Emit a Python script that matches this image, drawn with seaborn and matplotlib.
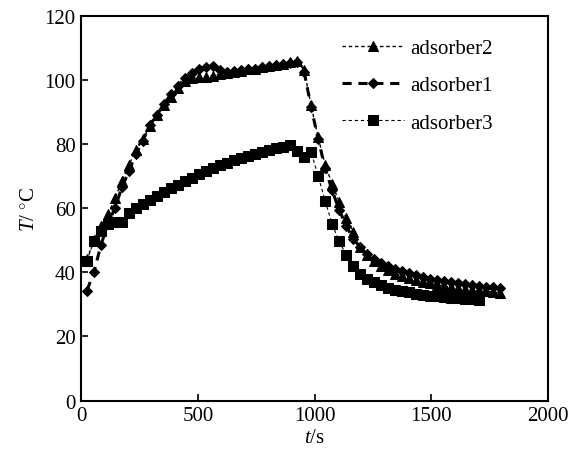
import matplotlib
matplotlib.use("Agg")
import matplotlib.pyplot as plt
import numpy as np
import pandas as pd
import seaborn as sns

# time axis (s), ~30 s sampling
t = [25, 55, 85, 115, 145, 175, 205, 235, 265, 295,
     325, 355, 385, 415, 445, 475, 505, 535, 565, 595,
     625, 655, 685, 715, 745, 775, 805, 835, 865, 895,
     925, 955, 985, 1015, 1045, 1075, 1105, 1135, 1165, 1195,
     1225, 1255, 1285, 1315, 1345, 1375, 1405, 1435, 1465, 1495,
     1525, 1555, 1585, 1615, 1645, 1675, 1705, 1735, 1765, 1795]

adsorber2 = [44.0, 50.0, 54.5, 58.0, 63.0, 68.5, 73.5, 78.0, 81.5, 85.5,
             89.0, 92.0, 94.5, 97.5, 99.5, 100.5, 100.8, 101.0, 101.3, 101.7,
             102.0, 102.4, 102.8, 103.2, 103.5, 103.9, 104.3, 104.7, 105.0, 105.4,
             105.8, 103.0, 92.0, 82.0, 73.5, 67.5, 62.0, 57.0, 52.5, 48.0,
             45.5, 43.5, 41.8, 40.6, 39.6, 38.8, 38.1, 37.5, 37.0, 36.5,
             36.1, 35.7, 35.3, 35.0, 34.7, 34.4, 34.2, 34.0, 33.8, 33.6]

adsorber1 = [34.3, 40.0, 48.5, 55.0, 60.0, 66.5, 71.5, 77.0, 81.0, 86.0,
             89.0, 92.5, 95.5, 98.0, 100.5, 102.0, 103.5, 104.0, 104.3, 103.0,
             102.5, 102.6, 102.9, 103.2, 103.5, 103.9, 104.2, 104.6, 105.0, 105.3,
             105.5, 102.5, 91.5, 81.5, 72.5, 65.5, 59.5, 54.5, 50.5, 47.8,
             45.6, 44.0, 42.8, 41.8, 41.0, 40.3, 39.7, 39.1, 38.5, 38.0,
             37.6, 37.2, 36.9, 36.6, 36.3, 36.1, 35.8, 35.5, 35.3, 35.0]

# adsorber3 stops at 1705 s
t3 = t[:57]
adsorber3 = [43.5, 49.8, 52.8, 55.0, 55.6, 55.6, 58.5, 60.0, 61.3, 62.5,
             63.8, 65.0, 66.2, 67.3, 68.4, 69.5, 70.5, 71.5, 72.4, 73.3,
             74.1, 74.9, 75.6, 76.3, 77.0, 77.6, 78.2, 78.7, 79.1, 79.8,
             77.8, 75.8, 77.5, 70.0, 62.3, 55.0, 49.6, 45.5, 42.0, 39.5,
             38.0, 36.9, 36.0, 35.2, 34.6, 34.1, 33.7, 33.3, 33.0, 32.7,
             32.5, 32.2, 32.0, 31.9, 31.7, 31.6, 31.5]

sns.set_theme(style="ticks")
plt.rcParams['font.family'] = ['Liberation Serif', 'DejaVu Serif']
plt.rcParams['mathtext.fontset'] = 'custom'
plt.rcParams['mathtext.it'] = 'Liberation Serif:italic'
plt.rcParams['mathtext.rm'] = 'Liberation Serif'

fig = plt.figure(figsize=(5.71, 4.60), dpi=100)
ax = fig.add_axes([0.142, 0.127, 0.818, 0.837])

df2 = pd.DataFrame({"t": t, "T": adsorber2})
df1 = pd.DataFrame({"t": t, "T": adsorber1})
df3 = pd.DataFrame({"t": t3, "T": adsorber3})

sns.lineplot(data=df2, x="t", y="T", ax=ax, color="black", lw=1.0,
             ls=(0, (2.5, 2)), marker="^", markersize=7.5, mec="black",
             label="adsorber2")
sns.lineplot(data=df1, x="t", y="T", ax=ax, color="black", lw=2.2,
             ls=(0, (3, 2.2)), marker="D", markersize=5.5, mec="black",
             label="adsorber1")
sns.lineplot(data=df3, x="t", y="T", ax=ax, color="black", lw=0.8,
             ls=(0, (3, 2.5)), marker="s", markersize=7, mec="black",
             label="adsorber3")

ax.set_xlim(0, 2000)
ax.set_ylim(0, 120)
ax.set_xticks([0, 500, 1000, 1500, 2000])
ax.set_yticks([0, 20, 40, 60, 80, 100, 120])
ax.tick_params(direction="in", length=5, width=1.2, labelsize=15,
               colors="black", pad=4)
for s in ax.spines.values():
    s.set_visible(True)
    s.set_color("black")
    s.set_linewidth(1.5)

ax.set_xlabel("$t$/s", fontsize=15, color="black", labelpad=2)
ax.set_ylabel("$T$/ $^{\\circ}$C", fontsize=15, color="black", labelpad=4)

leg = ax.legend(loc="upper right", frameon=False,
                prop={"family": "Liberation Serif", "size": 15},
                handlelength=3.0, labelspacing=0.85, handletextpad=0.3,
                borderaxespad=0, bbox_to_anchor=(0.90, 0.962))
for txt in leg.get_texts():
    txt.set_color("black")

fig.savefig("out.png", dpi=100)
